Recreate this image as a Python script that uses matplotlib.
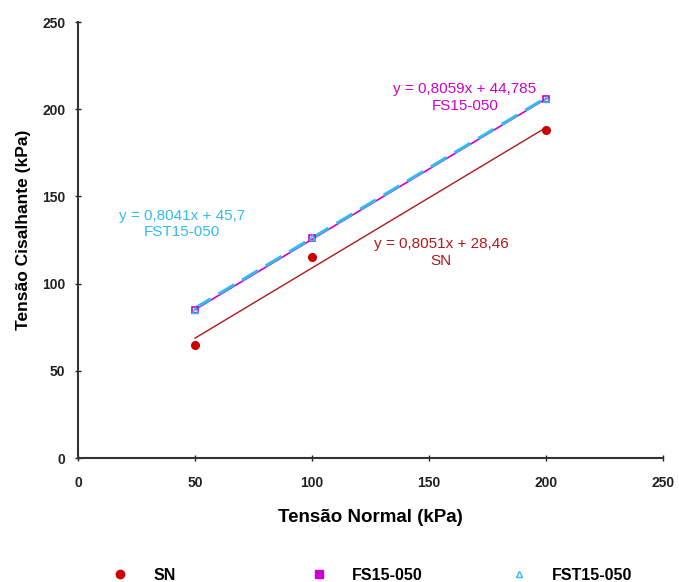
import numpy as np
import matplotlib
matplotlib.use("Agg")
import matplotlib.pyplot as plt
from matplotlib.lines import Line2D

plt.rcParams['font.family'] = ['Liberation Sans', 'DejaVu Sans']

# Data
x_normal = [50, 100, 200]
sn = [65, 115, 188]
fs15 = [85, 126, 206]
fst15 = [85, 127, 206]

series_names = ["SN", "FS15-050", "FST15-050"]
slopes = [0.8051, 0.8059, 0.8041]
intercepts = [28.46, 44.785, 45.7]
eq_labels = ["y = 0,8051x + 28,46", "y = 0,8059x + 44,785", "y = 0,8041x + 45,7"]

xticks = [0, 50, 100, 150, 200, 250]
yticks = [0, 50, 100, 150, 200, 250]

c_sn_m = "#CC0000"
c_sn_l = "#B01818"
c_fs = "#CC00CC"
c_fst = "#33BBEE"

fig = plt.figure(figsize=(6.79, 5.82), dpi=100)
ax = fig.add_axes([78/679, 1-458/582, (663-78)/679, (458-22)/582])

xl = np.array([min(x_normal), max(x_normal)])
# trendlines
ax.plot(xl, slopes[0]*xl + intercepts[0], color=c_sn_l, lw=1.0, zorder=2)
ax.plot(xl, slopes[1]*xl + intercepts[1], color=c_fs, lw=1.2, zorder=2)
ax.plot(xl, slopes[2]*xl + intercepts[2], color=c_fst, lw=2.2, ls=(0, (6, 3)), zorder=3)

# markers
ax.plot(x_normal, sn, 'o', color=c_sn_m, ms=5.5, zorder=4)
ax.plot(x_normal, fs15, 's', mfc='none', mec=c_fs, mew=1.2, ms=5, zorder=4)
ax.plot(x_normal, fst15, '^', mfc='none', mec=c_fst, mew=1.0, ms=4, zorder=5)

ax.set_xlim(0, 250)
ax.set_ylim(0, 250)
ax.set_xticks(xticks)
ax.set_yticks(yticks)
ax.tick_params(direction='inout', length=4, width=1, labelsize=10, colors='#222222')
ax.tick_params(axis='x', pad=11)
ax.tick_params(axis='y', pad=7)
for lab in ax.get_xticklabels() + ax.get_yticklabels():
    lab.set_fontweight('bold')
for s in ['top', 'right']:
    ax.spines[s].set_visible(False)
for s in ['left', 'bottom']:
    ax.spines[s].set_linewidth(1.5)
    ax.spines[s].set_color('#333333')

ax.set_xlabel("Tensão Normal (kPa)", fontsize=13.5, fontweight='bold', labelpad=14)
ax.set_ylabel("Tensão Cisalhante (kPa)", fontsize=12.5, fontweight='bold')
ax.yaxis.set_label_coords(-0.080, 0.523)

# equation annotations
ax.text(155.1, 117.8, eq_labels[0] + "\n" + series_names[0], color=c_sn_l, fontsize=11,
        ha='center', va='center', linespacing=1.3)
ax.text(165.4, 206.7, eq_labels[1] + "\n" + series_names[1], color=c_fs, fontsize=11,
        ha='center', va='center', linespacing=1.3)
ax.text(44.4, 134.2, eq_labels[2] + "\n" + series_names[2], color=c_fst, fontsize=11,
        ha='center', va='center', linespacing=1.2)

handles = [
    Line2D([], [], ls='none', marker='o', color=c_sn_m, ms=6),
    Line2D([], [], ls='none', marker='s', color=c_fs, ms=6),
    Line2D([], [], ls='none', marker='^', mfc='none', mec=c_fst, ms=4.5),
]
leg_x = [128, 327, 527]
for h, name, xp in zip(handles, series_names, leg_x):
    leg = fig.legend([h], [name], loc='center left',
                     bbox_to_anchor=((xp - 18) / 679, 1 - 575 / 582),
                     frameon=False, fontsize=11.5, handlelength=1.2, handletextpad=1.5,
                     borderaxespad=0, borderpad=0)
    for t in leg.get_texts():
        t.set_fontweight('bold')

fig.savefig("out.png", dpi=100)
